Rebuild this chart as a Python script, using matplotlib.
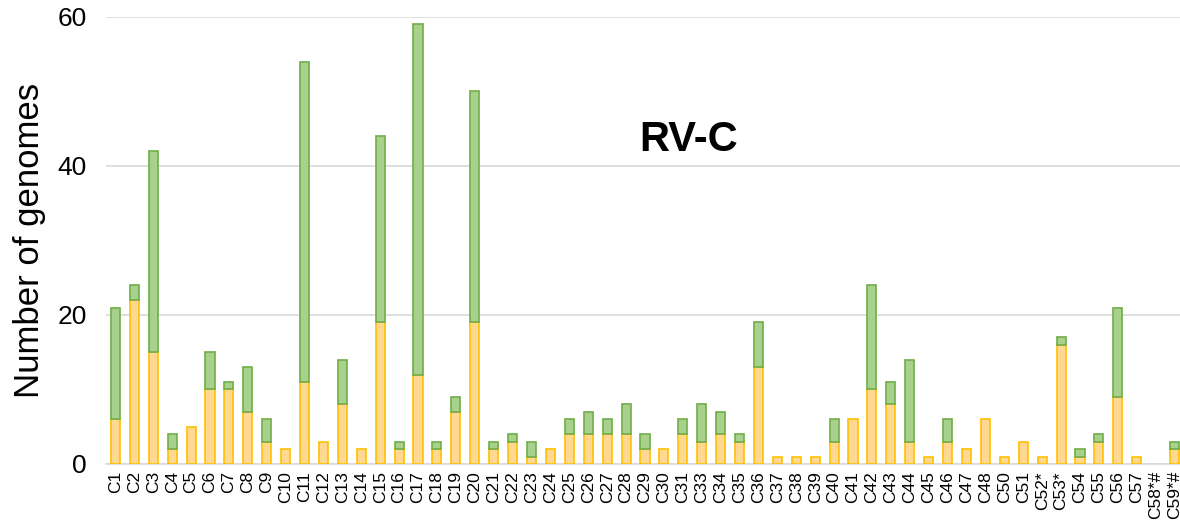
import numpy as np
import matplotlib.pyplot as plt

# categories (C32 and C49 are absent in the source)
labels = (["C%d" % i for i in range(1, 32)]
          + ["C%d" % i for i in range(33, 49)]
          + ["C50", "C51", "C52*", "C53*", "C54", "C55", "C56", "C57", "C58*#", "C59*#"])

# lower (yellow) segment
yellow = [6, 22, 15, 2, 5, 10, 10, 7, 3, 2,
          11, 3, 8, 2, 19, 2, 12, 2, 7, 19,
          2, 3, 1, 2, 4, 4, 4, 4, 2, 2,
          4, 3, 4, 3, 13, 1, 1, 1, 3, 6,
          10, 8, 3, 1, 3, 2, 6,
          1, 3, 1, 16, 1, 3, 9, 1, 0, 2]
# bar totals
total = [21, 24, 42, 4, 5, 15, 11, 13, 6, 2,
         54, 3, 14, 2, 44, 3, 59, 3, 9, 50,
         3, 4, 3, 2, 6, 7, 6, 8, 4, 2,
         6, 8, 7, 4, 19, 1, 1, 1, 6, 6,
         24, 11, 14, 1, 6, 2, 6,
         1, 3, 1, 17, 2, 4, 21, 1, 0, 3]

yellow = np.array(yellow)
green = np.array(total) - yellow
x = np.arange(len(labels))

plt.rcParams['font.family'] = ['Liberation Sans', 'DejaVu Sans']
fig = plt.figure(figsize=(11.8, 5.29), dpi=100)
ax = fig.add_axes([0.0898, 0.1229, 0.9136, 0.845])

# no outline for empty segments
y_edges = ['#FFC000' if v > 0 else 'none' for v in yellow]
g_edges = ['#70AD47' if v > 0 else 'none' for v in green]
ax.bar(x, yellow, width=0.48, color='#FFD993', edgecolor=y_edges, linewidth=1.2, zorder=3)
ax.bar(x, green, width=0.48, bottom=yellow, color='#A9D18E', edgecolor=g_edges, linewidth=1.2, zorder=3)

ax.set_xlim(-0.5, len(labels) - 0.5)
ax.set_ylim(0, 60)
ax.set_yticks([0, 20, 40, 60])
ax.yaxis.grid(True, color='#D9D9D9', linewidth=1.2, zorder=0)
ax.set_axisbelow(True)
for s in ['top', 'right', 'left']:
    ax.spines[s].set_visible(False)
ax.spines['bottom'].set_color('#D9D9D9')
ax.spines['bottom'].set_linewidth(1.2)

ax.set_xticks(x)
ax.set_xticklabels(labels, rotation=90, fontsize=12.5)
ax.tick_params(axis='x', length=0, pad=5)
ax.tick_params(axis='y', length=0, pad=14, labelsize=19)

ax.set_ylabel('Number of genomes', fontsize=25, labelpad=8)
ax.text(30.3, 43.5, 'RV-C', fontsize=30, fontweight='bold', ha='center', va='center')

fig.savefig('out.png', dpi=100)
